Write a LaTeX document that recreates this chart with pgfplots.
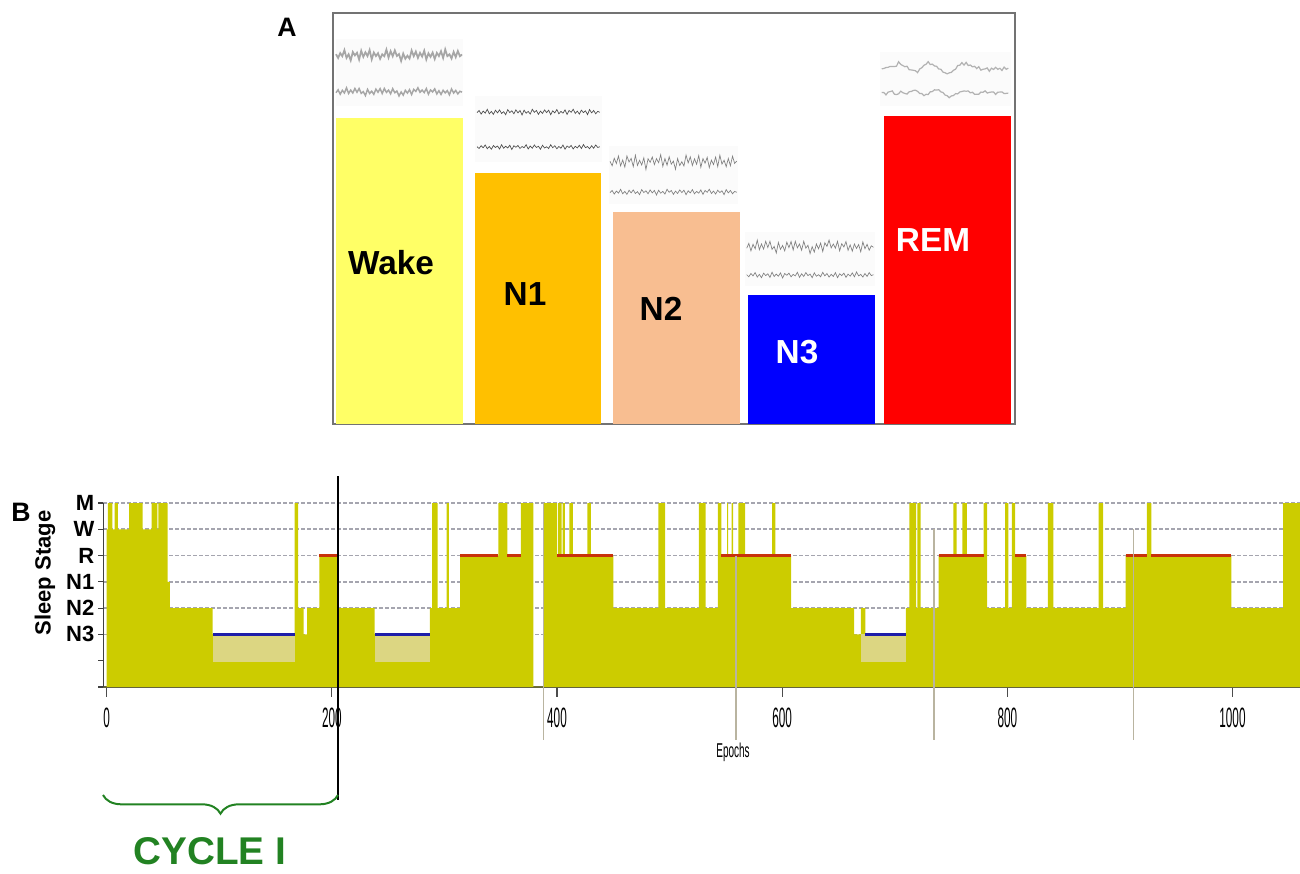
\documentclass[border=0pt]{standalone}
\usepackage{fontspec}
\setmainfont{Liberation Sans}
\usepackage{pgfplots}
\pgfplotsset{compat=1.18}
\usepackage{pgfplotstable}
\usetikzlibrary{decorations.pathreplacing}

\definecolor{cwake}{RGB}{255,255,102}
\definecolor{cnone}{RGB}{255,192,0}
\definecolor{cntwo}{RGB}{248,190,145}
\definecolor{cnthree}{RGB}{0,0,255}
\definecolor{crem}{RGB}{255,0,0}
\definecolor{hyp}{RGB}{204,204,0}
\definecolor{hypl}{RGB}{220,214,130}
\definecolor{remline}{RGB}{200,50,10}
\definecolor{nthreeline}{RGB}{30,30,170}
\definecolor{cyc}{RGB}{34,130,34}
\definecolor{gridc}{RGB}{165,165,175}
\definecolor{caxis}{RGB}{100,100,60}
\definecolor{vline}{RGB}{185,180,160}

\newcommand{\sx}[1]{\scalebox{0.42}[1]{#1}}

% hand-typed EEG-like squiggles (normalised)
\pgfplotstableread{
i f1 f2 s1 s2
0 0.1 -0.2 0.0 0.1
1 -0.6 0.5 0.2 0.0
2 0.5 -0.7 0.1 -0.2
3 -0.3 0.3 0.3 0.1
4 0.8 -0.4 0.2 0.3
5 -0.7 0.9 0.5 0.2
6 0.2 -0.6 0.3 -0.1
7 -0.9 0.2 0.6 -0.3
8 0.6 -0.8 0.9 0.0
9 -0.2 0.6 0.7 0.2
10 0.4 -0.3 0.4 0.1
11 -0.8 0.7 0.5 -0.2
12 0.9 -0.5 0.2 -0.1
13 -0.5 0.1 0.0 0.2
14 0.3 -0.9 -0.2 0.4
15 -0.4 0.8 -0.1 0.3
16 0.7 -0.2 -0.4 0.5
17 -1.0 0.4 -0.3 0.2
18 0.5 -0.6 -0.1 0.0
19 -0.1 0.7 0.2 -0.2
20 0.6 -0.3 0.4 -0.4
21 -0.6 0.5 0.8 -0.3
22 0.2 -1.0 1.0 -0.1
23 -0.3 0.6 0.7 0.1
24 0.9 -0.4 0.5 0.3
25 -0.8 0.2 0.6 0.5
26 0.4 -0.7 0.3 0.6
27 -0.5 0.9 0.1 0.4
28 0.8 -0.1 -0.2 0.2
29 -0.2 0.5 -0.4 0.0
30 0.3 -0.8 -0.6 -0.2
31 -0.9 0.3 -0.5 -0.5
32 0.7 -0.5 -0.7 -0.7
33 -0.4 0.7 -0.4 -0.6
34 0.1 -0.2 -0.2 -0.4
35 -0.6 0.6 0.1 -0.2
36 0.9 -0.9 0.3 0.0
37 -0.3 0.4 0.6 0.1
38 0.5 -0.3 0.8 0.3
39 -0.7 0.8 0.7 0.2
40 0.2 -0.6 0.9 0.4
41 -0.5 0.2 0.6 0.3
42 0.8 -0.4 0.4 0.1
43 -0.9 0.7 0.5 0.0
44 0.4 -0.8 0.3 -0.1
45 -0.2 0.5 0.1 -0.3
46 0.6 -0.1 0.2 -0.2
47 -0.8 0.9 0.0 0.0
48 0.3 -0.5 -0.1 0.2
49 -0.4 0.3 0.1 0.3
50 0.7 -0.7 0.0 0.1
51 -0.6 0.6 -0.2 0.0
52 1.0 -0.2 -0.1 0.2
53 -0.3 0.4 0.0 0.1
54 0.2 -0.9 0.2 -0.1
55 -0.7 0.8 0.1 0.0
56 0.5 -0.3 0.0 0.2
57 -0.5 0.5 -0.1 0.1
58 0.8 -0.6 0.1 0.0
59 -0.2 0.2 0.0 -0.1
60 0.1 -0.1 0.1 0.0
}\eeg

\begin{document}
\begin{tikzpicture}
\useasboundingbox (0,0) rectangle (975pt,655.5pt);

% ---------------- Panel A ----------------
\begin{axis}[at={(249.75pt,337.5pt)}, anchor=south west, scale only axis,
  width=511.5pt, height=308.25pt, xmin=0.5, xmax=5.5, ymin=0, ymax=411,
  axis line style={draw=black!55, line width=0.8pt}, ticks=none, clip=false]
% faint backgrounds behind traces
\addplot[fill=black!1.5, draw=none] coordinates {(0.52,318) (1.45,318) (1.45,385) (0.52,385)} --cycle;
\addplot[fill=black!1.5, draw=none] coordinates {(1.54,262) (2.47,262) (2.47,328) (1.54,328)} --cycle;
\addplot[fill=black!1.5, draw=none] coordinates {(2.52,220) (3.47,220) (3.47,278) (2.52,278)} --cycle;
\addplot[fill=black!1.5, draw=none] coordinates {(3.52,138) (4.47,138) (4.47,192) (3.52,192)} --cycle;
\addplot[fill=black!1.5, draw=none] coordinates {(4.51,318) (5.47,318) (5.47,372) (4.51,372)} --cycle;
% bars
\addplot[ybar, bar width=0.93, bar shift=0pt, fill=cwake, draw=none] coordinates {(0.985,306)};
\addplot[ybar, bar width=0.93, bar shift=0pt, fill=cnone, draw=none] coordinates {(2.003,251)};
\addplot[ybar, bar width=0.93, bar shift=0pt, fill=cntwo, draw=none] coordinates {(3.018,212)};
\addplot[ybar, bar width=0.93, bar shift=0pt, fill=cnthree, draw=none] coordinates {(4.01,129)};
\addplot[ybar, bar width=0.93, bar shift=0pt, fill=crem, draw=none] coordinates {(5.005,308)};
% EEG traces
\addplot[black!35, line width=1.3pt] table[x expr={0.522+0.924*\thisrow{i}/60}, y expr={369+5*\thisrow{f1}+3*\thisrow{s2}}] {\eeg};
\addplot[black!35, line width=1.1pt] table[x expr={0.522+0.924*\thisrow{i}/60}, y expr={332+3.5*\thisrow{f2}+2*\thisrow{s1}}] {\eeg};
\addplot[black!70, line width=0.5pt] table[x expr={1.556+0.90*\thisrow{i}/60}, y expr={312+3*\thisrow{f2}}] {\eeg};
\addplot[black!70, line width=0.5pt] table[x expr={1.556+0.90*\thisrow{i}/60}, y expr={277+2.5*\thisrow{f1}}] {\eeg};
\addplot[black!50, line width=0.5pt] table[x expr={2.531+0.929*\thisrow{i}/60}, y expr={262+7*\thisrow{f1}+2*\thisrow{s1}}] {\eeg};
\addplot[black!50, line width=0.5pt] table[x expr={2.531+0.929*\thisrow{i}/60}, y expr={232+3*\thisrow{f2}}] {\eeg};
\addplot[black!50, line width=0.5pt] table[x expr={3.533+0.929*\thisrow{i}/60}, y expr={177+6*\thisrow{f2}+3*\thisrow{s1}}] {\eeg};
\addplot[black!50, line width=0.5pt] table[x expr={3.533+0.929*\thisrow{i}/60}, y expr={149+3*\thisrow{f1}}] {\eeg};
\addplot[black!30, line width=0.9pt] table[x expr={4.523+0.928*\thisrow{i}/60}, y expr={355+7*\thisrow{s1}+1.5*\thisrow{f1}}] {\eeg};
\addplot[black!30, line width=0.9pt] table[x expr={4.523+0.928*\thisrow{i}/60}, y expr={331+6*\thisrow{s2}+1*\thisrow{f2}}] {\eeg};
\end{axis}

% ---------------- Panel B ----------------
\begin{axis}[at={(77.5pt,140.25pt)}, anchor=south west, scale only axis,
  width=897.5pt, height=138pt, xmin=-3, xmax=1060, ymin=0, ymax=7, clip=false,
  axis x line=bottom, axis y line=left,
  x axis line style={-, draw=caxis, line width=1.5pt},
  y axis line style={-, draw=black!75, line width=0.8pt},
  tick align=outside,
  xtick={0,200,400,600,800,1000},
  xticklabels={\sx{0},\sx{200},\sx{400},\sx{600},\sx{800},\sx{1000}},
  xtick style={draw=black!70, line width=0.8pt, /pgfplots/major tick length=7.5pt},
  ytick style={draw=black!75, line width=0.8pt, /pgfplots/major tick length=4pt},
  xticklabel style={font=\fontsize{21}{21}\selectfont, yshift=-8pt},
  yticklabel style={font=\fontsize{16.5}{16.5}\selectfont\bfseries, xshift=1pt},
  ytick={2,3,4,5,6,7}, yticklabels={N3,N2,N1,R,W,M},
  extra y ticks={0,1}, extra y tick labels={}, extra y tick style={grid=none},
  ymajorgrids, major grid style={gridc, line width=1.2pt, dash pattern=on 3pt off 1.5pt}]
\addplot[const plot, fill=hyp, draw=none] coordinates {
(0,6) (1,7) (5,6) (7,7) (10,6) (20,7) (32,6) (40,7) (45,6) (46,7) (54,4) (56,3)
(94,2) (167,7) (170,3) (175,2) (178,3) (189,5) (205,3) (238,2) (287,3) (289,7)
(294,3) (302,7) (304,3) (314,5) (348,7) (356,5) (368,7) (379,0) (388,7) (400,5)
(401,7) (404,5) (405,7) (407,5) (411,7) (414,5) (427,7) (430,5) (450,3) (490,7)
(496,3) (526,7) (532,3) (543,7) (546,5) (551,7) (552,5) (555,7) (556.5,5) (561,7)
(567,5) (591,7) (594,5) (608,3) (664,2) (670,3) (674,2) (710,3) (713,7) (719,3)
(720,7) (723,3) (739,5) (752,7) (755,5) (760,7) (764,5) (779,7) (782,3) (798,7)
(801,3) (804,7) (807,5) (817,3) (836,7) (841,3) (881,7) (885,3) (905,5) (924,7)
(928,5) (999,3) (1045,7) (1060,7)} \closedcycle;
% lighter band below the N3 episodes
\addplot[fill=hypl, draw=none] coordinates {(94,0.95) (167,0.95) (167,2) (94,2)} --cycle;
\addplot[fill=hypl, draw=none] coordinates {(238,0.95) (287,0.95) (287,2) (238,2)} --cycle;
\addplot[fill=hypl, draw=none] coordinates {(670,0.95) (710,0.95) (710,2) (670,2)} --cycle;
% N3 lines
\addplot[nthreeline, line width=1.8pt] coordinates {(94,2) (167,2)};
\addplot[nthreeline, line width=1.8pt] coordinates {(238,2) (287,2)};
\addplot[nthreeline, line width=1.8pt] coordinates {(674,2) (710,2)};
% REM lines
\addplot[remline, line width=1.8pt] coordinates {(189,5) (205,5)};
\addplot[remline, line width=1.8pt] coordinates {(314,5) (348,5)};
\addplot[remline, line width=1.8pt] coordinates {(356,5) (368,5)};
\addplot[remline, line width=1.8pt] coordinates {(400,5) (450,5)};
\addplot[remline, line width=1.8pt] coordinates {(546,5) (608,5)};
\addplot[remline, line width=1.8pt] coordinates {(739,5) (779,5)};
\addplot[remline, line width=1.8pt] coordinates {(807,5) (817,5)};
\addplot[remline, line width=1.8pt] coordinates {(905,5) (924,5)};
\addplot[remline, line width=1.8pt] coordinates {(928,5) (999,5)};
% grey cycle markers
\addplot[vline, line width=1pt] coordinates {(388,7) (388,-2)};
\addplot[vline, line width=1pt] coordinates {(559,5) (559,-2)};
\addplot[vline, line width=1pt] coordinates {(735,6) (735,-2)};
\addplot[vline, line width=1pt] coordinates {(912,6) (912,-2)};
% black end of cycle I
\addplot[black, line width=1.5pt] coordinates {(205.5,8.02) (205.5,-4.3)};
\end{axis}

% brace
\draw[cyc, line width=1.5pt, decorate, decoration={brace, mirror, amplitude=14pt}]
  (77.25pt,59.25pt) -- (253.5pt,59.25pt);

% ---------------- annotations (pixel coordinates) ----------------
\begin{scope}[x=0.75pt, y=-0.75pt, yshift=655.5pt]
\node[font=\fontsize{20}{20}\selectfont\bfseries] at (287,27) {A};
\node[font=\fontsize{20}{20}\selectfont\bfseries] at (21,512) {B};
\node[font=\fontsize{25}{25}\selectfont\bfseries] at (391,263) {Wake};
\node[font=\fontsize{25}{25}\selectfont\bfseries] at (525,294) {N1};
\node[font=\fontsize{25}{25}\selectfont\bfseries] at (661,309) {N2};
\node[font=\fontsize{25}{25}\selectfont\bfseries, text=white] at (797,352) {N3};
\node[font=\fontsize{25}{25}\selectfont\bfseries, text=white] at (933,240) {REM};
\node[font=\fontsize{16.5}{16.5}\selectfont\bfseries, rotate=90] at (45,573) {Sleep Stage};
\node[font=\fontsize{15}{15}\selectfont] at (733,752) {\scalebox{0.5}[1]{Epochs}};
\node[font=\fontsize{29}{29}\selectfont\bfseries, text=cyc, inner sep=0pt] at (210,851) {CYCLE I};
\end{scope}
\end{tikzpicture}
\end{document}
